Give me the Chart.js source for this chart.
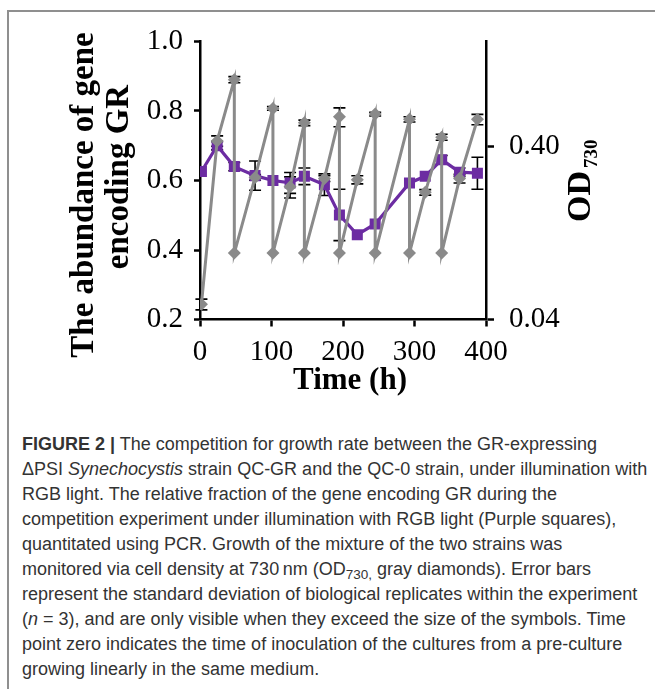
<!DOCTYPE html>
<html><head><meta charset="utf-8">
<script src="https://cdn.jsdelivr.net/npm/chart.js@4.4.1/dist/chart.umd.min.js"></script>
<style>
html,body{margin:0;padding:0;background:#fff;width:655px;height:689px;overflow:hidden;}
#frame{position:absolute;left:7px;top:10px;width:648px;height:679px;border-top:2px solid #8f8f8f;border-left:2px solid #8f8f8f;box-sizing:border-box;}
#wrap{position:absolute;left:0;top:0;width:655px;height:400px;}
#cap{position:absolute;left:22px;top:432px;font-family:'Liberation Sans',Arial,sans-serif;font-size:18px;line-height:25px;color:#333;white-space:nowrap;}
#cap sub{font-size:0.75em;line-height:0;vertical-align:-0.3em;}
</style></head><body>
<div id="frame"></div>
<div id="wrap"><canvas id="c" width="655" height="400"></canvas></div>
<div id="cap"><b>FIGURE 2 |</b> The competition for growth rate between the GR-expressing<br>ΔPSI <i>Synechocystis</i> strain QC-GR and the QC-0 strain, under illumination with<br>RGB light. The relative fraction of the gene encoding GR during the<br>competition experiment under illumination with RGB light (Purple squares),<br>quantitated using PCR. Growth of the mixture of the two strains was<br>monitored via cell density at 730&#8201;nm (OD<sub>730,</sub> gray diamonds). Error bars<br>represent the standard deviation of biological replicates within the experiment<br>(<i>n</i> = 3), and are only visible when they exceed the size of the symbols. Time<br>point zero indicates the time of inoculation of the cultures from a pre-culture<br>growing linearly in the same medium.</div>
<script>
// ---- data ----
const grTimes = [2, 24, 48, 77, 102, 126, 146, 174, 195, 220, 245, 293, 315, 338, 363, 388];
const grAbundance = [0.626, 0.700, 0.640, 0.614, 0.600, 0.593, 0.612, 0.588, 0.501, 0.444, 0.475, 0.593, 0.612, 0.660, 0.624, 0.621];
const grError = [0, 0.012, 0.012, 0.042, 0, 0.03, 0.024, 0.031, 0.074, 0, 0, 0, 0, 0.012, 0.012, 0.046];

const odTimes = [2, 24, 48, 48, 77, 102, 102, 126, 146, 146, 174, 195, 195, 220, 245, 245, 293, 293, 315, 338, 338, 363, 388];
const od730 = [0.049, 0.433, 0.98, 0.097, 0.266, 0.668, 0.097, 0.235, 0.551, 0.097, 0.262, 0.598, 0.097, 0.258, 0.619, 0.097, 0.577, 0.097, 0.218, 0.455, 0.097, 0.262, 0.577];
const odError = [0.0035, 0.03, 0.04, 0, 0.01, 0.016, 0, 0.033, 0.02, 0, 0.01, 0.075, 0, 0.014, 0.015, 0, 0.02, 0, 0.008, 0.018, 0, 0.015, 0.04];

const xTickValues = [0, 100, 200, 300, 400];
const leftTickValues = [0.2, 0.4, 0.6, 0.8, 1.0];
const rightTickValues = [0.04, 0.40];

const yTitleLines = ['The abundance of gene', 'encoding GR'];
const xTitle = 'Time (h)';
const rightTitle = 'OD';
const rightTitleSub = '730';

// ---- chart ----
const SERIF = "'Liberation Serif', 'Times New Roman', serif";
Chart.defaults.font.family = SERIF;
Chart.defaults.color = '#000';

const errorBars = {
  id: 'errorBars',
  beforeDatasetsDraw(chart) {
    const ctx = chart.ctx;
    ctx.save();
    ctx.strokeStyle = '#000';
    ctx.lineWidth = 1.6;
    chart.data.datasets.forEach((ds, di) => {
      const meta = chart.getDatasetMeta(di);
      const xs = chart.scales[meta.xAxisID];
      const ys = chart.scales[meta.yAxisID];
      ds.data.forEach((p, i) => {
        const e = ds.errors[i];
        if (!e) return;
        const px = xs.getPixelForValue(p.x);
        const top = ys.getPixelForValue(p.y + e);
        const bot = ys.getPixelForValue(Math.max(p.y - e, 1e-6));
        ctx.beginPath();
        ctx.moveTo(px, top); ctx.lineTo(px, bot);
        ctx.moveTo(px - 6, top); ctx.lineTo(px + 6, top);
        ctx.moveTo(px - 6, bot); ctx.lineTo(px + 6, bot);
        ctx.stroke();
      });
    });
    ctx.restore();
  }
};

function rotText(ctx, text, x, y, align) {
  ctx.save();
  ctx.translate(x, y);
  ctx.rotate(-Math.PI / 2);
  ctx.textAlign = align;
  ctx.textBaseline = 'alphabetic';
  ctx.fillText(text, 0, 0);
  ctx.restore();
}

const titles = {
  id: 'titles',
  afterDraw(chart) {
    const ctx = chart.ctx;
    ctx.save();
    ctx.fillStyle = '#000';
    ctx.font = 'bold 33px ' + SERIF;
    rotText(ctx, yTitleLines[0], 93, 195, 'center');
    rotText(ctx, yTitleLines[1], 128, 177, 'center');
    ctx.font = 'bold 31px ' + SERIF;
    ctx.textAlign = 'center';
    ctx.textBaseline = 'alphabetic';
    ctx.fillText(xTitle, 350, 388.5);
    ctx.font = 'bold 34px ' + SERIF;
    const w = ctx.measureText(rightTitle).width;
    rotText(ctx, rightTitle, 590, 222, 'left');
    ctx.font = 'bold 19px ' + SERIF;
    rotText(ctx, rightTitleSub, 597, 222 - w - 3, 'left');
    ctx.restore();
  }
};

const axisCommon = {
  grid: { display: true, drawOnChartArea: false, drawTicks: true, tickWidth: 2.5, tickColor: '#000' },
  border: { display: true, color: '#000', width: 2.5 }
};

new Chart(document.getElementById('c'), {
  type: 'scatter',
  data: {
    datasets: [
      {
        label: 'OD730',
        data: odTimes.map((t, i) => ({ x: t, y: od730[i] })),
        errors: odError,
        yAxisID: 'y1',
        showLine: true,
        borderColor: '#8a8a8a',
        backgroundColor: '#8a8a8a',
        borderWidth: 3,
        pointStyle: 'rectRot',
        pointRadius: 6.5,
        pointBorderWidth: 0,
        tension: 0
      },
      {
        label: 'Abundance of gene encoding GR',
        data: grTimes.map((t, i) => ({ x: t, y: grAbundance[i] })),
        errors: grError,
        yAxisID: 'y',
        showLine: true,
        borderColor: '#6c2ca2',
        backgroundColor: '#6c2ca2',
        borderWidth: 3.2,
        pointStyle: 'rect',
        pointRadius: 7.8,
        pointBorderWidth: 0,
        tension: 0
      }
    ]
  },
  options: {
    responsive: false,
    animation: false,
    events: [],
    layout: { padding: { top: 41.5, left: 0, right: 0, bottom: 0 } },
    plugins: { legend: { display: false }, tooltip: { enabled: false } },
    scales: {
      x: {
        type: 'linear', position: 'bottom', min: 0, max: 400,
        afterBuildTicks(s) { s.ticks = xTickValues.map(v => ({ value: v })); },
        ticks: { font: { size: 29 }, padding: 8, maxRotation: 0, autoSkip: false, color: '#000' },
        grid: { ...axisCommon.grid, tickLength: 7 },
        border: axisCommon.border,
        afterFit(s) { s.height = 80.5; }
      },
      y: {
        type: 'linear', position: 'left', min: 0.2, max: 1.0,
        afterBuildTicks(s) { s.ticks = leftTickValues.map(v => ({ value: v })); },
        ticks: { font: { size: 29 }, padding: 11, color: '#000', callback: v => Number(v).toFixed(1) },
        grid: { ...axisCommon.grid, tickLength: 6 },
        border: axisCommon.border,
        afterFit(s) { s.width = 200; }
      },
      y1: {
        type: 'logarithmic', position: 'right', min: 0.04, max: 1.63,
        afterBuildTicks(s) { s.ticks = rightTickValues.map(v => ({ value: v })); },
        ticks: { font: { size: 29 }, padding: 15, color: '#000', callback: v => Number(v).toFixed(2) },
        grid: { ...axisCommon.grid, tickLength: 8 },
        border: axisCommon.border,
        afterFit(s) { s.width = 169; }
      }
    }
  },
  plugins: [errorBars, titles]
});
</script>
</body></html>
